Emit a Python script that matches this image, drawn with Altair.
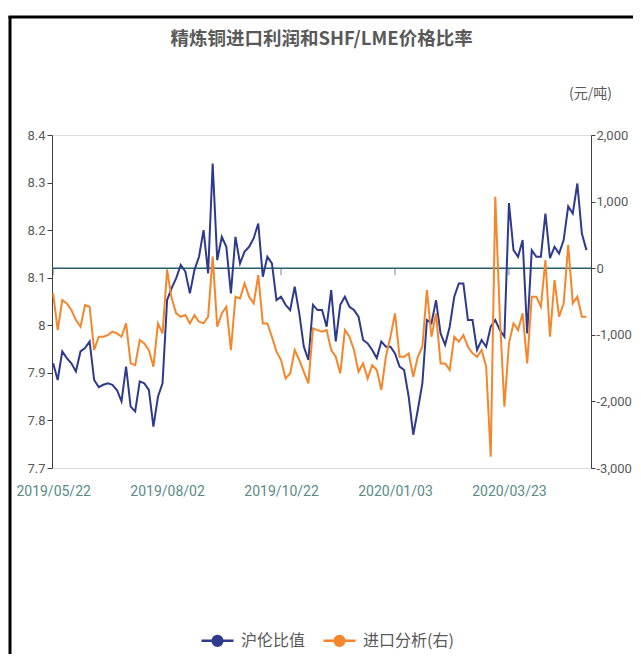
import altair as alt
import pandas as pd

title_text = "精炼铜进口利润和SHF/LME价格比率"
unit_text = "(元/吨)"
series_names = ["沪伦比值", "进口分析(右)"]
series_colors = ["#2E3A8C", "#F5862B"]

x_tick_index = [0, 25, 50, 75, 100]
x_tick_labels = ["2019/05/22", "2019/08/02", "2019/10/22", "2020/01/03", "2020/03/23"]
left_ticks = [7.7, 7.8, 7.9, 8.0, 8.1, 8.2, 8.3, 8.4]
right_ticks = [-3000, -2000, -1000, 0, 1000, 2000]

# 沪伦比值 (left axis)
ratio = [
    7.920, 7.885, 7.945, 7.931, 7.920, 7.903, 7.945, 7.952, 7.966, 7.885,
    7.870, 7.875, 7.878, 7.875, 7.864, 7.840, 7.913, 7.829, 7.819, 7.882,
    7.878, 7.864, 7.787, 7.850, 7.878, 8.053, 8.078, 8.099, 8.127, 8.113,
    8.067, 8.116, 8.144, 8.200, 8.109, 8.340, 8.137, 8.186, 8.165, 8.067,
    8.186, 8.130, 8.155, 8.165, 8.183, 8.214, 8.102, 8.144, 8.130, 8.053,
    8.060, 8.043, 8.032, 8.081, 8.025, 7.955, 7.927, 8.043, 8.032, 8.032,
    7.997, 8.074, 7.966, 8.043, 8.060, 8.039, 8.032, 8.018, 7.969, 7.962,
    7.948, 7.931, 7.966, 7.955, 7.955, 7.941, 7.913, 7.906, 7.850, 7.770,
    7.822, 7.878, 8.011, 8.004, 8.053, 7.983, 7.959, 7.997, 8.060, 8.088,
    8.088, 8.011, 8.011, 7.948, 7.969, 7.955, 7.997, 8.011, 7.990, 7.976,
    8.257, 8.158, 8.144, 8.179, 7.983, 8.158, 8.144, 8.144, 8.235, 8.141,
    8.165, 8.151, 8.179, 8.250, 8.235, 8.298, 8.193, 8.158,
]

# 进口分析 (right axis, 元/吨)
profit = [
    -378, -929, -478, -528, -628, -779, -879, -553, -578, -1229,
    -1029, -1029, -1004, -954, -979, -1029, -829, -1429, -1455, -1079,
    -1129, -1229, -1480, -829, -979, -28, -453, -678, -729, -704,
    -829, -704, -804, -829, -729, 173, -879, -678, -578, -1229,
    -428, -453, -228, -428, -528, -103, -829, -829, -1029, -1254,
    -1379, -1655, -1580, -1229, -1379, -1555, -1730, -904, -929, -954,
    -929, -1229, -1329, -1580, -929, -1029, -1229, -1555, -1429, -1655,
    -1455, -1530, -1830, -1329, -1029, -678, -1329, -1329, -1279, -1630,
    -1329, -1179, -328, -1029, -678, -1430, -1430, -1530, -1029, -1104,
    -1004, -1179, -1279, -1329, -1229, -1480, -2830, 1074, -729, -2080,
    -1129, -829, -929, -678, -1430, -428, -428, -578, 123, -1029,
    -178, -729, -528, 350, -528, -428, -729, -729,
]

n = len(ratio)
df_ratio = pd.DataFrame({"idx": list(range(n)), "value": ratio, "series": series_names[0]})
df_profit = pd.DataFrame({"idx": list(range(len(profit))), "value": profit, "series": series_names[1]})
df_zero = pd.DataFrame({"value": [0]})
df_xticks = pd.DataFrame({"idx": x_tick_index, "value": [0] * len(x_tick_index)})
df_one = pd.DataFrame({"a": [0]})

num_font = "Roboto, sans-serif"
cjk_font = "Noto Sans CJK SC"
grey = "#595959"
zero_color = "#2B5D6B"

x_scale = alt.Scale(domain=[-0.25, 118], nice=False, zero=False)
left_scale = alt.Scale(domain=[7.7, 8.4], nice=False, zero=False)
right_scale = alt.Scale(domain=[-3000, 2000], nice=False, zero=False)
color_scale = alt.Scale(domain=series_names, range=series_colors)

# nested conditional mapping tick index -> date label
label_expr = "''"
for v, s in reversed(list(zip(x_tick_index, x_tick_labels))):
    label_expr = "datum.value == {} ? '{}' : ({})".format(v, s, label_expr)

legend_path = ("M-1,0L1,0 "
               "M-0.3,0A0.3,0.3,0,1,0,0.3,0A0.3,0.3,0,1,0,-0.3,0 "
               "M-0.16,0A0.16,0.16,0,1,0,0.16,0A0.16,0.16,0,1,0,-0.16,0 "
               "M-0.04,0A0.04,0.04,0,1,0,0.04,0A0.04,0.04,0,1,0,-0.04,0")

legend = alt.Legend(
    title=None, orient="none", direction="horizontal", legendX=148, legendY=488,
    symbolType=legend_path, symbolSize=1024, symbolStrokeWidth=2.5,
    labelFont=cjk_font, labelFontSize=16, labelColor=grey, labelOffset=6,
    columnPadding=12,
)

x_axis = alt.Axis(
    orient="bottom", values=x_tick_index, labelExpr=label_expr, ticks=False,
    domain=False, grid=False, title=None, labelPadding=16, labelFont=num_font,
    labelFontSize=14, labelColor="#5A8A86", labelFlush=False, labelOverlap=False,
)

left_axis = alt.Axis(
    orient="left", values=left_ticks, format=".1~f", grid=False, title=None,
    labelFont=num_font, labelFontSize=13, labelColor=grey, tickSize=5,
    tickColor="#404040", domainColor="#404040", labelPadding=2,
)

right_axis = alt.Axis(
    orient="right", values=right_ticks,
    labelExpr="replace(format(datum.value, ','), '\u2212', '-')",
    grid=False, labelFont=num_font, labelFontSize=13, labelColor=grey,
    tickSize=4, tickColor="#404040", domainColor="#404040", labelPadding=1,
    title=unit_text, titleAngle=0, titleX=-1, titleY=-42, titleAlign="center",
    titleBaseline="middle", titleFont=cjk_font, titleFontSize=14,
    titleFontWeight="normal", titleColor=grey,
)

zero_rule = alt.Chart(df_zero).mark_rule(color=zero_color, strokeWidth=1.5).encode(
    y=alt.Y("value:Q", scale=right_scale, axis=None)
)

zero_ticks = alt.Chart(df_xticks).mark_tick(
    orient="vertical", color=zero_color, size=7, thickness=1, yOffset=3.5
).encode(
    x=alt.X("idx:Q", scale=x_scale, axis=x_axis),
    y=alt.Y("value:Q", scale=right_scale, axis=None),
)

blue = alt.Chart(df_ratio).mark_line(strokeWidth=2).encode(
    x=alt.X("idx:Q", scale=x_scale, axis=x_axis),
    y=alt.Y("value:Q", scale=left_scale, axis=left_axis),
    color=alt.Color("series:N", scale=color_scale, legend=legend, sort=series_names),
)

orange = alt.Chart(df_profit).mark_line(strokeWidth=2).encode(
    x=alt.X("idx:Q", scale=x_scale, axis=x_axis),
    y=alt.Y("value:Q", scale=right_scale, axis=right_axis),
    color=alt.Color("series:N", scale=color_scale, legend=legend, sort=series_names),
)

frame_left = alt.Chart(df_one).mark_rule(color="black", strokeWidth=3).encode(
    x=alt.value(-42), y=alt.value(-119), y2=alt.value(600)
)
frame_top = alt.Chart(df_one).mark_rule(color="black", strokeWidth=3).encode(
    x=alt.value(-43.5), x2=alt.value(700), y=alt.value(-118)
)

chart = alt.layer(
    frame_left, frame_top, zero_rule, zero_ticks, blue, orange
).resolve_scale(
    y="independent"
).properties(
    width=539, height=333,
    autosize=alt.AutoSizeParams(type="none"),
    padding={"left": 44, "top": 127, "right": 42, "bottom": 186},
    title=alt.TitleParams(
        text=title_text, anchor="middle", frame="group", font=cjk_font,
        fontSize=18.5, fontWeight="bold", color=grey, offset=-34,
    ),
).configure_view(stroke=None).configure(background="white")

chart.save("out.html", embed_options={"renderer": "svg", "actions": False})
